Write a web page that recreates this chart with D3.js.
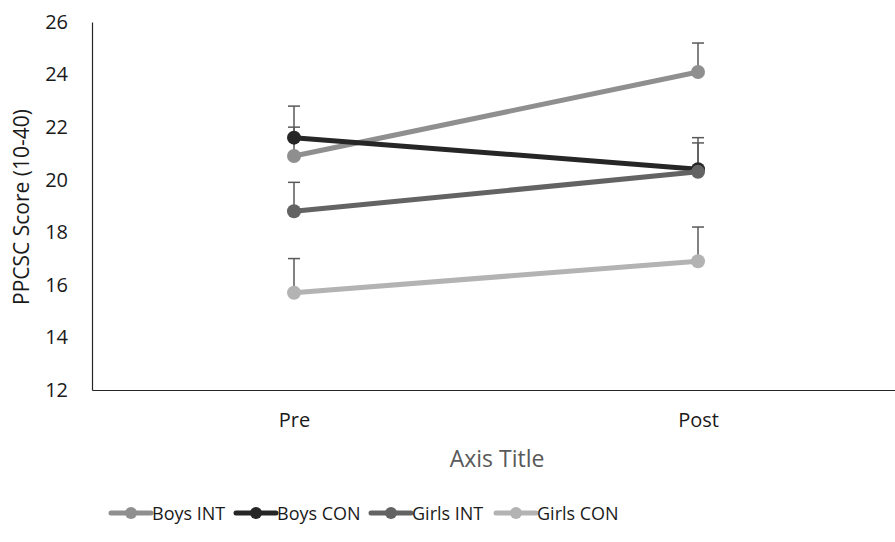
<!DOCTYPE html>
<html>
<head>
<meta charset="utf-8">
<script src="https://cdn.jsdelivr.net/npm/d3@7"></script>
<style>
  body { margin: 0; background: #fff; }
  text { font-family: "Open Sans", "Noto Sans", sans-serif; }
</style>
</head>
<body>
<div id="chart-area"></div>
<script>
// Data
var phases = ["Pre", "Post"];
var seriesNames = ["Boys INT", "Boys CON", "Girls INT", "Girls CON"];
var seriesColors = ["#8f8f8f", "#262626", "#636363", "#b3b3b3"];
var boysInt = [20.9, 24.1];
var boysCon = [21.6, 20.4];
var girlsInt = [18.8, 20.3];
var girlsCon = [15.7, 16.9];
var boysIntErr = [1.1, 1.1];
var boysConErr = [1.2, 1.2];
var girlsIntErr = [1.1, 1.1];
var girlsConErr = [1.3, 1.3];
var yTicks = [12, 14, 16, 18, 20, 22, 24, 26];

var seriesValues = [boysInt, boysCon, girlsInt, girlsCon];
var seriesErrors = [boysIntErr, boysConErr, girlsIntErr, girlsConErr];

var margin = { left: 92, right: -5, top: 22, bottom: 152 },
    width = 895 - margin.left - margin.right,
    height = 542 - margin.top - margin.bottom;

var svg = d3.select("#chart-area").append("svg")
    .attr("width", 895)
    .attr("height", 542);

var g = svg.append("g")
    .attr("transform", "translate(" + margin.left + ", " + margin.top + ")");

var x = d3.scalePoint().domain(phases).range([0, width]).padding(0.5);
var y = d3.scaleLinear().domain([12, 26]).range([height, 0]);

// Axes
var yAxis = g.append("g")
    .call(d3.axisLeft(y).tickValues(yTicks).tickSize(0).tickPadding(24));
yAxis.select(".domain").attr("stroke", "#262626").attr("stroke-width", 1.2);
yAxis.selectAll("text").attr("font-size", 20).attr("fill", "#1a1a1a");

var xAxis = g.append("g")
    .attr("transform", "translate(0," + height + ")")
    .call(d3.axisBottom(x).tickSize(0).tickPadding(23));
xAxis.select(".domain").attr("stroke", "#262626").attr("stroke-width", 1.2);
xAxis.selectAll("text").attr("font-size", 20).attr("fill", "#1a1a1a");

// Axis titles
svg.append("text")
    .attr("transform", "rotate(-90)")
    .attr("x", -207)
    .attr("y", 29)
    .attr("text-anchor", "middle")
    .attr("font-size", 21)
    .attr("fill", "#1a1a1a")
    .text("PPCSC Score (10-40)");

svg.append("text")
    .attr("x", 497)
    .attr("y", 467)
    .attr("text-anchor", "middle")
    .attr("font-size", 23)
    .attr("fill", "#595959")
    .text("Axis Title");

// Error bars (plus only)
seriesValues.forEach(function (vals, i) {
    var eg = g.append("g");
    phases.forEach(function (p, j) {
        var top = vals[j] + seriesErrors[i][j];
        eg.append("line")
            .attr("x1", x(p)).attr("x2", x(p))
            .attr("y1", y(vals[j])).attr("y2", y(top))
            .attr("stroke", "#595959").attr("stroke-width", 1.5);
        eg.append("line")
            .attr("x1", x(p) - 6).attr("x2", x(p) + 6)
            .attr("y1", y(top)).attr("y2", y(top))
            .attr("stroke", "#595959").attr("stroke-width", 1.5);
    });
});

// Lines and markers
var line = d3.line()
    .x(function (d, j) { return x(phases[j]); })
    .y(function (d) { return y(d); });

seriesValues.forEach(function (vals, i) {
    g.append("path")
        .attr("d", line(vals))
        .attr("fill", "none")
        .attr("stroke", seriesColors[i])
        .attr("stroke-width", 5);
    g.selectAll(null)
        .data(vals)
        .enter().append("circle")
        .attr("cx", function (d, j) { return x(phases[j]); })
        .attr("cy", function (d) { return y(d); })
        .attr("r", 7)
        .attr("fill", seriesColors[i]);
});

// Legend
var legendX = [111, 236, 371, 496];
var legend = svg.append("g").attr("transform", "translate(0,513)");
seriesNames.forEach(function (name, i) {
    var lg = legend.append("g").attr("transform", "translate(" + legendX[i] + ",0)");
    lg.append("line")
        .attr("x1", 0).attr("x2", 40)
        .attr("stroke", seriesColors[i]).attr("stroke-width", 5)
        .attr("stroke-linecap", "round");
    lg.append("circle").attr("cx", 20).attr("r", 6).attr("fill", seriesColors[i]);
    lg.append("text")
        .attr("x", 41).attr("y", 7)
        .attr("font-size", 18)
        .attr("fill", "#1a1a1a")
        .text(name);
});
</script>
</body>
</html>
